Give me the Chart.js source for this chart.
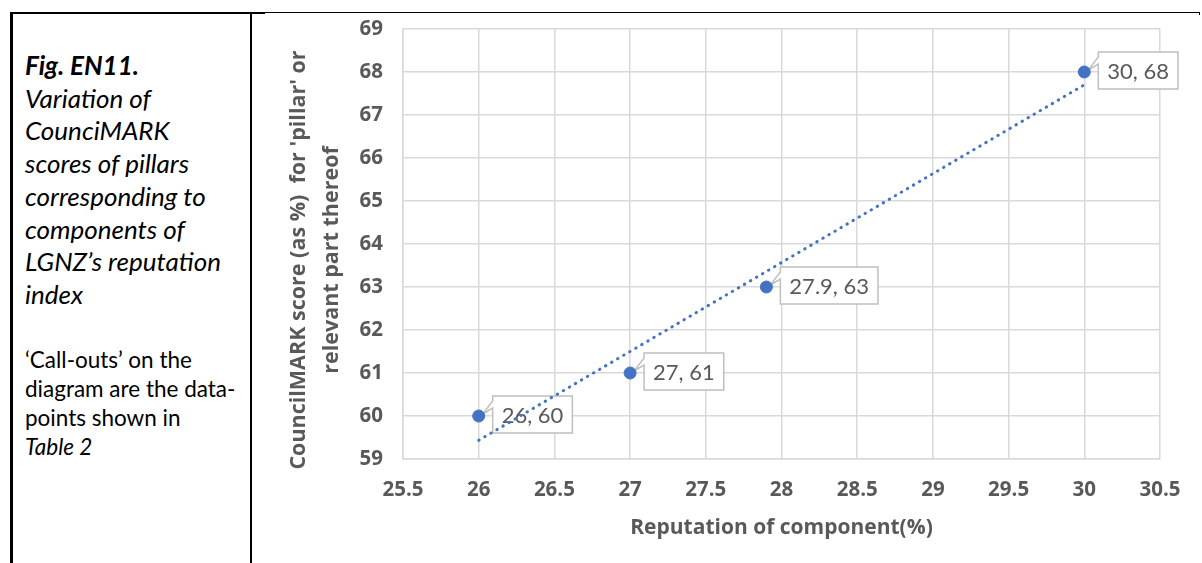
<!DOCTYPE html>
<html>
<head>
<meta charset="utf-8">
<script src="https://cdn.jsdelivr.net/npm/chart.js@4.4.0/dist/chart.umd.min.js"></script>
<style>
  html, body { margin:0; padding:0; background:#fff; }
  body { width:1202px; height:563px; position:relative; overflow:hidden; font-family: Lato, "Open Sans", sans-serif; }
  #lineLeft { position:absolute; left:10px; top:12px; width:3px; height:560px; background:#000; }
  #lineMid { position:absolute; left:250px; top:12px; width:2px; height:560px; background:#000; }
  #lineTopA { position:absolute; left:10px; top:12px; width:255px; height:2px; background:#000; }
  #lineTopB { position:absolute; left:265px; top:12px; width:935px; height:1px; background:#000; }
  #lineTick { position:absolute; left:1199px; top:12px; width:1px; height:3px; background:#000; }
  #caption { position:absolute; left:25px; top:49px; width:224px; color:#000; white-space:nowrap; }
  #caption .a { font-size:26px; line-height:32.7px; font-style:italic; }
  #caption .b { font-size:22.5px; line-height:29px; margin-top:34px; }
  #wrap { position:absolute; left:253px; top:14px; width:949px; height:549px; }
</style>
</head>
<body>
<div id="lineLeft"></div><div id="lineMid"></div><div id="lineTopA"></div><div id="lineTopB"></div><div id="lineTick"></div>
<div id="caption">
  <div class="a"><b>Fig. EN11.</b><br>Variation of<br>CounciMARK<br>scores of pillars<br>corresponding to<br>components of<br>LGNZ’s reputation<br>index</div>
  <div class="b">‘Call-outs’ on the<br>diagram are the data-<br>points shown in<br><i>Table 2</i></div>
</div>
<div id="wrap"><canvas id="c"></canvas></div>
<script>
const reputation = [26, 27, 27.9, 30];
const scores = [60, 61, 63, 68];
const labels = ["26, 60", "27, 61", "27.9, 63", "30, 68"];
const xTitle = "Reputation of component(%)";
const yTitle = ["CouncilMARK score (as %)  for 'pillar' or", "relevant part thereof"];

// least-squares trendline from the data
const n = reputation.length;
const mx = reputation.reduce((a,b)=>a+b,0)/n;
const my = scores.reduce((a,b)=>a+b,0)/n;
let sxy=0, sxx=0;
for (let i=0;i<n;i++){ sxy+=(reputation[i]-mx)*(scores[i]-my); sxx+=(reputation[i]-mx)**2; }
const slope = sxy/sxx, icpt = my - slope*mx;
const xMinD = Math.min(...reputation), xMaxD = Math.max(...reputation);
const trend = [{x:xMinD, y:icpt+slope*xMinD}, {x:xMaxD, y:icpt+slope*xMaxD}];

const gray = '#595959';
const chartFont = "'Open Sans'";

const yTitlePlugin = {
  id:'yTitlePlugin',
  afterDraw(chart){
    const ctx = chart.ctx;
    const area = chart.chartArea;
    const cy = (area.top + area.bottom)/2 + 16;
    ctx.save();
    ctx.fillStyle = gray;
    ctx.font = "bold 21.5px " + chartFont;
    ctx.textAlign = 'center';
    ctx.textBaseline = 'middle';
    yTitle.forEach((t,i)=>{
      ctx.save();
      ctx.translate(46 + i*33, cy);
      ctx.rotate(-Math.PI/2);
      ctx.fillText(t, 0, 0);
      ctx.restore();
    });
    ctx.restore();
  }
};

const callouts = {
  id:'callouts',
  beforeDatasetsDraw(chart){
    const ctx = chart.ctx;
    const meta = chart.getDatasetMeta(1);
    ctx.save();
    ctx.font = '22px Lato';
    meta.data.forEach((pt,i)=>{
      const px = pt.x, py = pt.y;
      const tw = ctx.measureText(labels[i]).width;
      const bw = tw + 18, bh = 37;
      const bx = px + 14, by = py - 20;
      ctx.beginPath();
      ctx.moveTo(bx, by);
      ctx.lineTo(bx+bw, by);
      ctx.lineTo(bx+bw, by+bh);
      ctx.lineTo(bx, by+bh);
      ctx.lineTo(bx, by+12);
      ctx.lineTo(px+4, py-2);
      ctx.lineTo(bx, by+5);
      ctx.closePath();
      ctx.fillStyle = '#fff';
      ctx.fill();
      ctx.strokeStyle = '#BFBFBF';
      ctx.lineWidth = 1.5;
      ctx.stroke();
      ctx.fillStyle = gray;
      ctx.textBaseline = 'middle';
      ctx.textAlign = 'left';
      ctx.fillText(labels[i], bx+9, by+bh/2+1);
    });
    ctx.restore();
  }
};

new Chart(document.getElementById('c'), {
  type:'scatter',
  data:{
    datasets:[
      { type:'line', data:trend, borderColor:'#4472C4', borderWidth:3, borderDash:[0.5,6.5], borderCapStyle:'round', pointRadius:0, fill:false, order:2 },
      { data: reputation.map((x,i)=>({x, y:scores[i]})), backgroundColor:'#4472C4', borderColor:'#4472C4', pointRadius:6, pointHoverRadius:6, order:1 }
    ]
  },
  options:{
    responsive:true, maintainAspectRatio:false, animation:false,
    layout:{ padding:{ left:0, right:42, top:15, bottom:0 } },
    plugins:{ legend:{display:false}, tooltip:{enabled:false} },
    scales:{
      x:{ type:'linear', min:25.5, max:30.5,
          ticks:{ stepSize:0.5, color:gray, font:{family:chartFont, size:20.5, weight:'bold'}, padding:19, callback:v=>String(v) },
          grid:{ color:'#D9D9D9', lineWidth:1.5, drawTicks:false },
          border:{ color:'#D9D9D9', width:1.5 },
          title:{ display:true, text:xTitle, color:gray, font:{family:chartFont, size:21, weight:'bold'}, padding:{top:0, bottom:22} },
          afterFit(s){ s.height = 104; } },
      y:{ min:59, max:69,
          ticks:{ stepSize:1, color:gray, font:{family:chartFont, size:20.5, weight:'bold'}, padding:20, callback:v=>String(v) },
          grid:{ color:'#D9D9D9', lineWidth:1.5, drawTicks:false },
          border:{ color:'#D9D9D9', width:1.5 },
          afterFit(s){ s.width = 150; s.paddingTop = 0; s.paddingBottom = 0; } }
    }
  },
  plugins:[callouts, yTitlePlugin]
});
</script>
</body>
</html>
